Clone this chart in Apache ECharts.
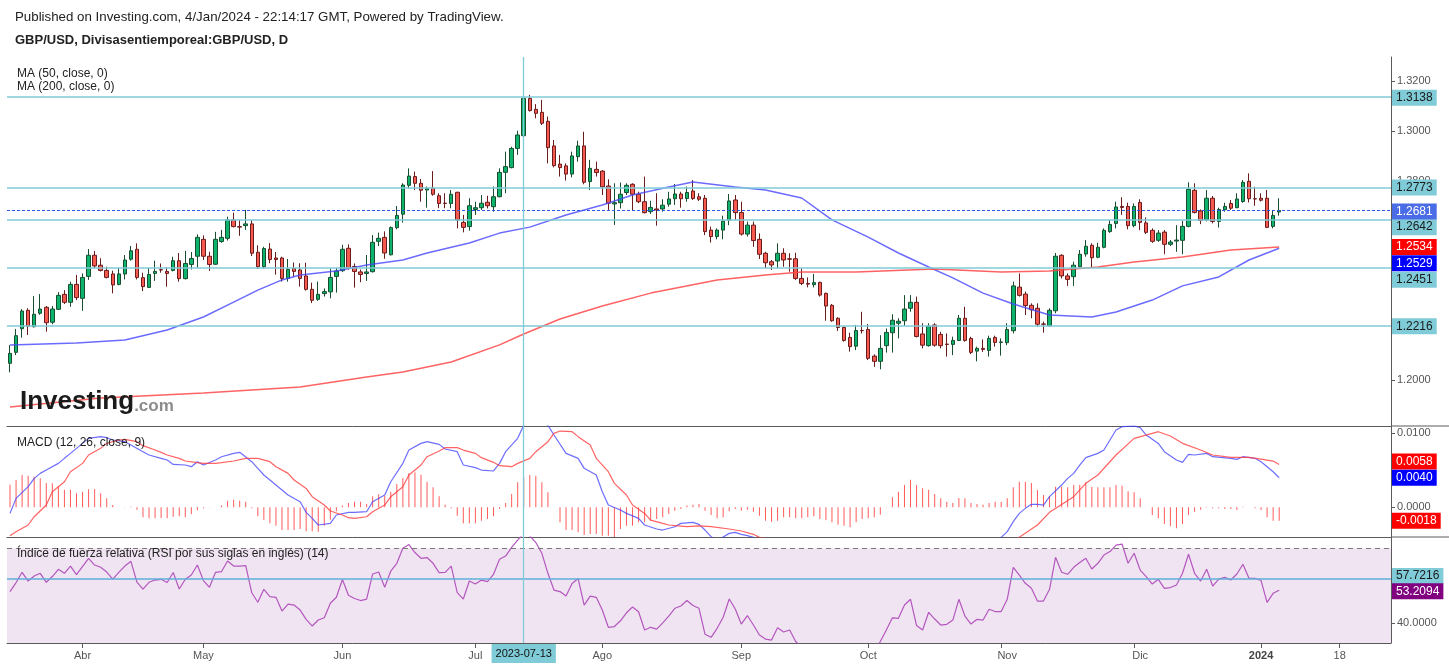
<!DOCTYPE html>
<html>
<head>
<meta charset="utf-8">
<script src="https://cdn.jsdelivr.net/npm/echarts@6/dist/echarts.min.js"></script>
<style>
html,body{margin:0;padding:0;background:#fff;}
#chart{width:1449px;height:667px;}
</style>
</head>
<body>
<div id="chart"></div>
<script>
// ---------- categories ----------
const firstDay = '2023-03-16';
const categoryCount = 229;
const tickLabels = {
  '2023-04-03':'Abr','2023-05-01':'May','2023-06-01':'Jun','2023-07-03':'Jul',
  '2023-07-13':'2023-07-13','2023-08-01':'Ago','2023-09-01':'Sep','2023-10-02':'Oct',
  '2023-11-01':'Nov','2023-12-01':'Dic','2024-01-01':'2024','2024-01-18':'18'
};
const crosshairDay = '2023-07-13';

// ---------- daily OHLC (from 2023-03-16) ----------
const opens = [
1.2067,1.2111,1.2206,1.2280,1.2214,1.2268,1.2292,1.2232,1.2284,1.2344,
1.2312,1.2384,1.2328,1.2416,1.2501,1.2461,1.2440,1.2426,1.2384,1.2426,
1.2485,1.2525,1.2411,1.2372,1.2428,1.2443,1.2436,1.2440,1.2479,1.2407,
1.2464,1.2497,1.2565,1.2497,1.2465,1.2556,1.2569,1.2643,1.2616,1.2620,
1.2627,1.2513,1.2455,1.2526,1.2490,1.2490,1.2408,1.2448,1.2442,1.2418,
1.2364,1.2324,1.2347,1.2354,1.2416,1.2439,1.2529,1.2456,1.2434,1.2428,
1.2435,1.2557,1.2573,1.2503,1.2612,1.2666,1.2782,1.2817,1.2790,1.2763,
1.2770,1.2740,1.2710,1.2709,1.2754,1.2633,1.2616,1.2685,1.2692,1.2714,
1.2696,1.2736,1.2834,1.2853,1.2930,1.2981,1.3131,1.3087,1.3075,1.3039,
1.2940,1.2867,1.2860,1.2827,1.2897,1.2940,1.2797,1.2846,1.2839,1.2779,
1.2707,1.2712,1.2753,1.2786,1.2746,1.2716,1.2676,1.2687,1.2687,1.2706,
1.2728,1.2747,1.2729,1.2759,1.2736,1.2730,1.2602,1.2576,1.2602,1.2642,
1.2723,1.2673,1.2586,1.2622,1.2565,1.2509,1.2475,1.2478,1.2509,1.2487,
1.2487,1.2408,1.2388,1.2383,1.2392,1.2348,1.2300,1.2248,1.2211,1.2171,
1.2136,1.2199,1.2203,1.2096,1.2075,1.2138,1.2190,1.2228,1.2238,1.2288,
1.2312,1.2185,1.2138,1.2221,1.2183,1.2144,1.2143,1.2159,1.2248,1.2167,
1.2116,1.2127,1.2119,1.2171,1.2151,1.2150,1.2198,1.2373,1.2345,1.2300,
1.2288,1.2225,1.2218,1.2278,1.2501,1.2418,1.2415,1.2455,1.2506,1.2541,
1.2493,1.2533,1.2596,1.2629,1.2697,1.2697,1.2620,1.2713,1.2631,1.2601,
1.2561,1.2594,1.2545,1.2558,1.2561,1.2617,1.2762,1.2679,1.2643,1.2730,
1.2637,1.2684,1.2709,1.2692,1.2717,1.2798,1.2728,1.2730,1.2730,1.2617,
1.2675];
const highs = [
1.2140,1.2205,1.2285,1.2288,1.2337,1.2345,1.2297,1.2297,1.2353,1.2361,
1.2395,1.2422,1.2428,1.2526,1.2518,1.2489,1.2455,1.2439,1.2450,1.2502,
1.2538,1.2549,1.2431,1.2451,1.2479,1.2468,1.2452,1.2495,1.2510,1.2519,
1.2514,1.2585,1.2581,1.2515,1.2595,1.2603,1.2656,1.2672,1.2643,1.2683,
1.2643,1.2541,1.2535,1.2550,1.2514,1.2495,1.2486,1.2472,1.2469,1.2471,
1.2391,1.2395,1.2368,1.2448,1.2451,1.2543,1.2545,1.2468,1.2444,1.2502,
1.2582,1.2592,1.2597,1.2617,1.2699,1.2790,1.2850,1.2837,1.2807,1.2777,
1.2839,1.2750,1.2750,1.2763,1.2756,1.2663,1.2730,1.2716,1.2743,1.2740,
1.2777,1.2850,1.2917,1.2937,1.3001,1.3141,1.3145,1.3108,1.3125,1.3058,
1.2964,1.2904,1.2870,1.2917,1.2961,1.2997,1.2884,1.2877,1.2843,1.2806,
1.2790,1.2793,1.2790,1.2790,1.2756,1.2817,1.2720,1.2750,1.2726,1.2756,
1.2787,1.2756,1.2777,1.2803,1.2750,1.2743,1.2616,1.2609,1.2660,1.2747,
1.2743,1.2716,1.2636,1.2636,1.2589,1.2515,1.2482,1.2549,1.2529,1.2509,
1.2511,1.2448,1.2412,1.2426,1.2395,1.2351,1.2305,1.2252,1.2214,1.2190,
1.2221,1.2274,1.2225,1.2103,1.2180,1.2207,1.2264,1.2248,1.2341,1.2341,
1.2335,1.2228,1.2228,1.2228,1.2194,1.2187,1.2174,1.2261,1.2294,1.2174,
1.2134,1.2163,1.2178,1.2178,1.2167,1.2228,1.2395,1.2428,1.2355,1.2308,
1.2308,1.2235,1.2288,1.2510,1.2505,1.2428,1.2475,1.2522,1.2562,1.2549,
1.2551,1.2609,1.2643,1.2716,1.2734,1.2712,1.2709,1.2726,1.2653,1.2609,
1.2602,1.2602,1.2562,1.2622,1.2639,1.2794,1.2790,1.2685,1.2763,1.2739,
1.2692,1.2712,1.2723,1.2750,1.2803,1.2830,1.2776,1.2750,1.2763,1.2680,
1.2730];
const lows = [
1.2031,1.2100,1.2170,1.2181,1.2211,1.2262,1.2194,1.2224,1.2281,1.2305,
1.2294,1.2321,1.2278,1.2402,1.2448,1.2436,1.2408,1.2348,1.2380,1.2404,
1.2479,1.2404,1.2357,1.2371,1.2398,1.2431,1.2375,1.2436,1.2395,1.2404,
1.2444,1.2451,1.2482,1.2438,1.2462,1.2551,1.2560,1.2613,1.2579,1.2603,
1.2498,1.2446,1.2448,1.2469,1.2423,1.2395,1.2395,1.2415,1.2375,1.2359,
1.2309,1.2318,1.2335,1.2328,1.2351,1.2434,1.2443,1.2371,1.2393,1.2398,
1.2432,1.2538,1.2487,1.2500,1.2605,1.2632,1.2768,1.2763,1.2716,1.2692,
1.2740,1.2690,1.2690,1.2690,1.2609,1.2593,1.2600,1.2663,1.2683,1.2689,
1.2676,1.2734,1.2750,1.2850,1.2904,1.2977,1.3078,1.3051,1.3024,1.2870,
1.2854,1.2817,1.2801,1.2814,1.2877,1.2786,1.2763,1.2817,1.2743,1.2683,
1.2623,1.2689,1.2743,1.2683,1.2710,1.2669,1.2667,1.2620,1.2676,1.2696,
1.2703,1.2692,1.2716,1.2723,1.2719,1.2582,1.2552,1.2565,1.2565,1.2622,
1.2643,1.2580,1.2576,1.2535,1.2486,1.2448,1.2442,1.2448,1.2455,1.2435,
1.2402,1.2381,1.2372,1.2372,1.2335,1.2238,1.2234,1.2197,1.2154,1.2114,
1.2120,1.2187,1.2080,1.2053,1.2043,1.2110,1.2110,1.2167,1.2217,1.2274,
1.2171,1.2127,1.2134,1.2134,1.2127,1.2094,1.2100,1.2156,1.2154,1.2104,
1.2075,1.2113,1.2094,1.2134,1.2098,1.2140,1.2187,1.2335,1.2261,1.2248,
1.2214,1.2190,1.2214,1.2268,1.2408,1.2378,1.2378,1.2451,1.2495,1.2451,
1.2489,1.2529,1.2591,1.2609,1.2663,1.2605,1.2613,1.2602,1.2586,1.2551,
1.2555,1.2505,1.2538,1.2515,1.2505,1.2613,1.2669,1.2626,1.2637,1.2629,
1.2612,1.2676,1.2683,1.2690,1.2712,1.2713,1.2700,1.2717,1.2610,1.2609,
1.2660];
const closes = [
1.2107,1.2178,1.2277,1.2216,1.2264,1.2285,1.2230,1.2285,1.2340,1.2312,
1.2384,1.2331,1.2412,1.2501,1.2458,1.2440,1.2412,1.2382,1.2426,1.2482,
1.2519,1.2412,1.2375,1.2424,1.2436,1.2442,1.2428,1.2479,1.2407,1.2468,
1.2488,1.2573,1.2497,1.2464,1.2565,1.2573,1.2643,1.2616,1.2614,1.2627,
1.2509,1.2455,1.2528,1.2484,1.2484,1.2408,1.2444,1.2436,1.2408,1.2364,
1.2320,1.2344,1.2355,1.2412,1.2438,1.2525,1.2448,1.2436,1.2424,1.2434,
1.2553,1.2569,1.2510,1.2612,1.2661,1.2783,1.2819,1.2790,1.2762,1.2770,
1.2746,1.2709,1.2709,1.2746,1.2643,1.2613,1.2700,1.2692,1.2710,1.2700,
1.2736,1.2834,1.2857,1.2930,1.2984,1.3131,1.3082,1.3071,1.3031,1.2933,
1.2861,1.2853,1.2827,1.2900,1.2940,1.2794,1.2850,1.2833,1.2776,1.2710,
1.2712,1.2746,1.2782,1.2746,1.2716,1.2672,1.2693,1.2683,1.2702,1.2727,
1.2747,1.2728,1.2753,1.2729,1.2726,1.2596,1.2576,1.2602,1.2638,1.2719,
1.2672,1.2586,1.2622,1.2560,1.2505,1.2471,1.2462,1.2509,1.2482,1.2485,
1.2408,1.2388,1.2385,1.2391,1.2341,1.2297,1.2238,1.2211,1.2159,1.2134,
1.2199,1.2198,1.2087,1.2075,1.2127,1.2191,1.2240,1.2236,1.2285,1.2312,
1.2175,1.2140,1.2216,1.2140,1.2138,1.2143,1.2159,1.2248,1.2159,1.2111,
1.2127,1.2123,1.2167,1.2151,1.2153,1.2203,1.2378,1.2340,1.2299,1.2282,
1.2224,1.2224,1.2280,1.2497,1.2418,1.2404,1.2461,1.2505,1.2537,1.2491,
1.2533,1.2601,1.2625,1.2695,1.2693,1.2620,1.2697,1.2633,1.2593,1.2557,
1.2590,1.2545,1.2554,1.2562,1.2617,1.2766,1.2673,1.2641,1.2730,1.2637,
1.2685,1.2697,1.2690,1.2727,1.2794,1.2728,1.2727,1.2722,1.2613,1.2661,
1.2681];

// ---------- moving averages, read as [dayIndex, value] ----------
const ma50Points = [[0,1.2141],[11,1.2149],[19,1.2161],[26,1.2201],[32,1.2253],[37,1.2313],[41,1.2361],[45,1.2402],[48,1.2422],[54,1.2438],[59,1.2462],[65,1.2482],[69,1.2510],[76,1.2550],[81,1.2590],[86,1.2614],[92,1.2663],[98,1.2703],[103,1.2743],[109,1.2775],[113,1.2795],[120,1.2775],[125,1.2763],[131,1.2731],[136,1.2643],[142,1.2574],[147,1.2510],[152,1.2454],[156,1.2410],[161,1.2349],[166,1.2305],[172,1.2261],[179,1.2253],[183,1.2273],[189,1.2321],[194,1.2378],[200,1.2414],[205,1.2482],[210,1.2529]];
const ma200Points = [[0,1.1892],[15,1.1928],[32,1.1948],[48,1.1972],[59,1.2012],[65,1.2032],[73,1.2072],[81,1.2141],[85,1.2185],[91,1.2245],[98,1.2297],[106,1.2349],[117,1.2402],[125,1.2422],[131,1.2434],[140,1.2434],[153,1.2446],[164,1.2434],[172,1.2438],[180,1.2454],[186,1.2474],[194,1.2494],[202,1.2522],[210,1.2534]];

// ---------- price levels ----------
const supportLevels = [1.3138, 1.2773, 1.2642, 1.2451, 1.2216];
const lastPrice = 1.2681;
const ma200Last = 1.2534;
const ma50Last = 1.2529;
const priceTicks = [1.20, 1.22, 1.24, 1.26, 1.28, 1.30, 1.32];

// ---------- MACD ----------
const macdHist = [
0.00306,0.00369,0.00437,0.00428,0.00414,0.00392,0.00329,0.00324,0.00284,0.00239,
0.00239,0.00189,0.00212,0.00243,0.00248,0.00189,0.00122,0.00032,0.00000,0.00005,
0.00009,-0.00032,-0.00135,-0.00149,-0.00149,-0.00144,-0.00149,-0.00126,-0.00122,-0.00135,
-0.00090,-0.00040,-0.00014,0.00005,0.00002,0.00023,0.00090,0.00104,0.00090,0.00077,
-0.00014,-0.00122,-0.00171,-0.00216,-0.00248,-0.00306,-0.00306,-0.00306,-0.00293,-0.00324,
-0.00324,-0.00329,-0.00248,-0.00167,-0.00054,0.00023,0.00059,0.00077,0.00077,0.00045,
0.00149,0.00176,0.00158,0.00212,0.00315,0.00396,0.00464,0.00473,0.00441,0.00347,
0.00270,0.00149,0.00036,-0.00014,-0.00113,-0.00216,-0.00216,-0.00216,-0.00180,-0.00158,
-0.00122,-0.00023,0.00059,0.00180,0.00338,0.00405,0.00437,0.00428,0.00338,0.00203,
0.00000,-0.00203,-0.00306,-0.00306,-0.00338,-0.00374,-0.00360,-0.00360,-0.00383,-0.00383,
-0.00405,-0.00293,-0.00248,-0.00248,-0.00203,-0.00203,-0.00180,-0.00158,-0.00135,-0.00090,
-0.00045,-0.00023,0.00023,0.00036,0.00045,
-0.00045,-0.00104,-0.00149,-0.00135,-0.00054,-0.00023,-0.00045,-0.00032,-0.00059,-0.00113,
-0.00180,-0.00194,-0.00180,-0.00135,-0.00135,-0.00149,-0.00149,-0.00135,-0.00122,-0.00158,
-0.00171,-0.00203,-0.00234,-0.00248,-0.00270,-0.00203,-0.00158,-0.00149,-0.00135,-0.00099,
0.00005,0.00135,0.00212,0.00302,0.00374,0.00302,0.00257,0.00239,0.00180,0.00122,
0.00077,0.00059,0.00126,0.00122,0.00059,0.00045,0.00036,0.00059,0.00077,0.00077,
0.00122,0.00270,0.00347,0.00347,0.00329,0.00234,0.00167,0.00149,0.00279,0.00279,
0.00270,0.00302,0.00306,0.00338,0.00279,0.00270,0.00270,0.00270,0.00302,0.00293,
0.00216,0.00203,0.00122,0.00000,-0.00104,-0.00149,-0.00225,-0.00257,-0.00284,-0.00225,
-0.00104,-0.00059,-0.00032,0.00009,-0.00014,-0.00014,-0.00023,-0.00023,-0.00036,0.00009,
0.00002,-0.00014,-0.00036,-0.00135,-0.00180,-0.00180];
const macdPoints = [[0,-0.00082],[1,0.00121],[3,0.00279],[4,0.00391],[5,0.00459],[6,0.00504],[8,0.00594],[9,0.00662],[10,0.00729],[11,0.00797],[12,0.00864],[13,0.00932],[15,0.00955],[16,0.00941],[17,0.0091],[19,0.00887],[20,0.00842],[22,0.00752],[23,0.00707],[25,0.00662],[26,0.00639],[27,0.0058],[29,0.00572],[30,0.00549],[31,0.00617],[32,0.00572],[34,0.00639],[35,0.00684],[37,0.00729],[38,0.00743],[40,0.00617],[41,0.00527],[42,0.00437],[43,0.00369],[45,0.00234],[46,0.00166],[48,0.00076],[49,-0.00068],[50,-0.00149],[51,-0.00239],[53,-0.00217],[54,-0.00104],[56,-0.00068],[57,-0.00068],[59,-0.00059],[60,0.00076],[62,0.00166],[63,0.00346],[65,0.00594],[66,0.00774],[68,0.00864],[69,0.00887],[71,0.00851],[72,0.00788],[74,0.00752],[75,0.00572],[77,0.00536],[78,0.00504],[80,0.00491],[81,0.00594],[82,0.00752],[84,0.00932],[85,0.0111],[87,0.0118],[89,0.0111],[90,0.00977],[92,0.00729],[94,0.00662],[95,0.00527],[97,0.00437],[98,0.00211],[99,0.00031],[101,-0.00036],[102,-0.00082],[104,-0.00149],[105,-0.00239],[107,-0.00293],[108,-0.00307],[110,-0.00262],[111,-0.00217],[113,-0.00203],[114,-0.0023],[115,-0.00307],[116,-0.00397],[117,-0.0045],[119,-0.00352],[120,-0.00338],[121,-0.00365],[122,-0.00383],[123,-0.00406],[126,-0.005],[130,-0.0058],[135,-0.0072],[140,-0.0085],[144,-0.0078],[150,-0.0062],[156,-0.0055],[160,-0.005],[163,-0.0045],[164,-0.00406],[165,-0.00329],[166,-0.00194],[167,-0.00082],[168,-0.00014],[169,0.0004],[170,0.0004],[171,0.00031],[172,0.00144],[174,0.00301],[175,0.00391],[176,0.00459],[177,0.00571],[178,0.00671],[180,0.00729],[181,0.00774],[182,0.0091],[183,0.01045],[184,0.0109],[186,0.011],[187,0.01076],[188,0.00977],[190,0.00864],[191,0.00752],[193,0.00639],[194,0.00608],[195,0.00716],[196,0.00707],[198,0.00729],[199,0.00684],[202,0.00662],[203,0.00648],[204,0.00684],[206,0.00662],[207,0.00617],[209,0.00481],[210,0.0040]];
const signalPoints = [[0,-0.00383],[1,-0.00329],[3,-0.00239],[4,-0.00127],[6,0.00031],[7,0.00211],[9,0.00346],[10,0.00481],[12,0.00594],[13,0.00707],[15,0.00797],[16,0.00864],[18,0.0091],[19,0.00919],[21,0.00887],[22,0.00833],[24,0.00774],[25,0.00743],[26,0.00707],[28,0.00662],[29,0.00626],[31,0.00603],[32,0.00594],[34,0.00594],[35,0.00603],[37,0.00626],[39,0.00662],[41,0.00662],[43,0.00617],[44,0.00549],[46,0.00459],[47,0.00369],[49,0.00256],[50,0.00144],[52,0.00031],[53,-0.0005],[55,-0.00104],[56,-0.0014],[57,-0.00149],[59,-0.00127],[60,-0.00059],[62,0.00031],[63,0.00144],[65,0.00279],[66,0.00437],[68,0.00572],[69,0.00684],[71,0.00761],[72,0.00806],[74,0.00806],[75,0.00774],[77,0.00729],[78,0.00671],[80,0.00608],[81,0.00563],[83,0.00549],[84,0.00594],[86,0.00662],[87,0.00752],[89,0.00887],[90,0.01],[91,0.01031],[93,0.01022],[94,0.00955],[96,0.00842],[97,0.00662],[99,0.00482],[100,0.00324],[102,0.00166],[103,0.00031],[105,-0.00082],[106,-0.00172],[108,-0.00217],[109,-0.00239],[111,-0.00253],[112,-0.00262],[114,-0.0025],[116,-0.00261],[119,-0.00293],[121,-0.0032],[123,-0.00365],[124,-0.00406],[128,-0.0046],[135,-0.0058],[142,-0.0072],[150,-0.0075],[158,-0.0062],[163,-0.0052],[167,-0.00406],[170,-0.00239],[172,-0.00068],[176,0.00144],[178,0.00324],[180,0.00437],[183,0.00707],[186,0.00932],[189,0.00999],[190,0.01022],[192,0.00964],[194,0.00865],[197,0.00774],[199,0.00707],[202,0.00675],[205,0.00675],[207,0.00652],[209,0.00625],[210,0.0058]];
const macdTicks = [0, 0.01];
const signalLast = 0.0058, macdLast = 0.0040, histLast = -0.0018;

// ---------- RSI ----------
const rsiPoints = [[0,52.7],[1,56.3],[2,60.4],[3,56.9],[4,58.9],[5,60.0],[6,56.4],[7,58.7],[8,61.6],[9,60.0],[10,62.9],[11,59.5],[13,66.0],[14,63.3],[15,62.4],[16,60.5],[17,57.7],[18,60.4],[19,62.9],[20,64.8],[21,56.5],[22,53.7],[23,56.4],[24,57.3],[25,57.6],[26,56.3],[27,60.3],[28,53.7],[29,57.6],[30,59.3],[31,63.3],[32,57.1],[33,54.4],[34,60.4],[35,60.7],[36,64.9],[37,62.9],[38,62.9],[39,63.1],[40,52.2],[41,48.4],[42,53.6],[43,50.7],[44,50.4],[45,44.9],[46,47.7],[47,47.3],[48,45.3],[49,41.6],[50,38.9],[51,41.3],[52,42.2],[53,48.0],[54,50.4],[55,57.5],[56,51.2],[57,49.9],[58,49.1],[59,49.7],[60,59.7],[61,60.5],[62,54.4],[63,60.9],[64,64.0],[65,70.0],[66,71.5],[67,68.3],[68,66.0],[69,66.3],[70,64.0],[71,60.3],[72,60.4],[73,62.9],[74,52.3],[75,49.7],[76,56.9],[77,55.7],[78,57.3],[79,56.7],[80,59.6],[81,65.6],[82,66.9],[83,70.4],[84,73.3],[85,76.0],[86,75.0],[87,72.3],[88,68.0],[89,60.0],[90,53.3],[91,52.7],[92,50.9],[93,55.9],[94,57.9],[95,47.3],[96,50.9],[97,50.4],[98,45.3],[99,38.4],[100,38.7],[101,41.0],[102,44.2],[103,46.5],[104,44.6],[105,37.3],[106,38.4],[107,37.7],[108,40.2],[109,42.9],[110,46.0],[111,46.9],[112,49.1],[113,47.1],[114,46.0],[115,35.6],[116,34.4],[117,38.0],[118,42.4],[119,49.7],[120,45.7],[121,39.7],[122,43.1],[123,39.3],[124,35.3],[125,33.7],[126,33.3],[127,38.2],[128,36.5],[129,37.3],[130,32.7],[131,30.5],[133,28.0],[136,24.0],[139,21.0],[142,25.0],[143,28.5],[144,32.7],[145,37.3],[146,42.2],[147,42.0],[148,47.3],[149,49.6],[150,39.1],[151,37.3],[152,44.4],[153,41.7],[154,39.3],[155,39.6],[156,41.3],[157,49.6],[158,42.9],[159,39.7],[160,41.6],[161,41.3],[162,45.6],[163,44.7],[164,44.7],[165,49.6],[166,62.4],[167,59.3],[168,56.0],[169,54.0],[170,48.9],[171,48.9],[172,53.6],[173,66.4],[174,60.4],[175,59.6],[176,62.4],[177,64.3],[178,66.0],[179,61.7],[180,64.0],[181,67.3],[182,68.7],[183,71.3],[184,71.7],[185,64.0],[186,68.0],[187,61.3],[188,58.7],[189,55.7],[190,57.6],[191,54.0],[192,54.3],[193,55.3],[194,60.0],[195,67.6],[196,60.0],[197,56.9],[198,61.6],[199,54.9],[200,57.7],[201,58.4],[202,57.3],[203,59.7],[204,63.6],[205,58.0],[206,58.0],[207,57.1],[208,48.4],[209,52.0],[210,53.2]];
const rsiUpper = 70, rsiLower = 30;
const rsiLevel = 57.7216;
const rsiLast = 53.2094;
const rsiTicks = [40, 60];

// ---------- build ----------
function weekdays(start, n) {
  const out = [];
  const p = start.split('-').map(Number);
  const d = new Date(Date.UTC(p[0], p[1] - 1, p[2]));
  while (out.length < n) {
    const w = d.getUTCDay();
    if (w !== 0 && w !== 6) out.push(d.toISOString().slice(0, 10));
    d.setUTCDate(d.getUTCDate() + 1);
  }
  return out;
}
const dates = weekdays(firstDay, categoryCount);
const candles = opens.map((o, i) => [o, closes[i], lows[i], highs[i]]);
const toPairs = pts => pts.map(p => [dates[p[0]], p[1]]);
const isTickDay = (i, v) => Object.prototype.hasOwnProperty.call(tickLabels, v);

const FONT = '"Liberation Sans", Arial, sans-serif';
const TEAL = '#7FCBD7';
const AXIS = '#5a5a5a';
const NOLINE = {color: 'rgba(0,0,0,0)', width: 1};

// axis ranges (pane extents)
const PRICE_MIN = 1.18153, PRICE_MAX = 1.32972;
const MACD_MIN = -0.00401, MACD_MAX = 0.01099;
const RSI_MIN = 32.12, RSI_MAX = 74.52;

function badge(text, bg, fg, dy) {
  return {
    show: true, position: 'end', distance: 1, formatter: text,
    backgroundColor: bg, color: fg, fontSize: 12, fontFamily: FONT,
    padding: [2, 4, 1, 4], lineHeight: 13, offset: [0, dy || 0]
  };
}
const levelShift = {1.3138: 1, 1.2773: 0, 1.2642: 7, 1.2451: 12, 1.2216: 0};
const crossLine = {xAxis: crosshairDay, lineStyle: {color: TEAL, width: 1.3, type: 'solid'}, label: {show: false}};

const xAxes = [0, 1, 2].map(g => ({
  type: 'category', gridIndex: g, data: dates, boundaryGap: true,
  axisLine: {show: true, onZero: false, lineStyle: {color: AXIS, width: 1}},
  axisTick: g === 2 ? {show: true, alignWithLabel: true, length: 5, interval: isTickDay,
    lineStyle: {color: AXIS}} : {show: false},
  axisLabel: g === 2 ? {
    show: true, margin: 1, color: '#555', fontSize: 11, fontFamily: FONT,
    interval: isTickDay,
    formatter: v => {
      const t = tickLabels[v] || '';
      if (v === crosshairDay) return '{hl|' + t + '}';
      if (t === '2024') return '{b|' + t + '}';
      if (t === 'Nov' || t === 'Dic') return '{s|' + t + '}';
      return '{n|' + t + '}';
    },
    rich: {
      hl: {backgroundColor: TEAL, color: '#111', padding: [4, 4, 4, 4], fontSize: 11, fontFamily: FONT},
      b: {fontWeight: 'bold', color: '#444', fontSize: 11, fontFamily: FONT, padding: [6, 0, 0, 0]},
      n: {color: '#555', fontSize: 11, fontFamily: FONT, padding: [6, 0, 0, 0]},
      s: {color: '#555', fontSize: 11, fontFamily: FONT, padding: [6, 0, 0, 12]}
    }
  } : {show: false},
  splitLine: {show: false}
}));

function yAxisFor(g, min, max, ticks, dec) {
  return {
    type: 'value', gridIndex: g, position: 'right', min: min, max: max,
    splitLine: {show: false},
    axisLine: {show: true, lineStyle: {color: AXIS, width: 1}},
    axisTick: {show: true, length: 4, customValues: ticks, lineStyle: {color: AXIS}},
    axisLabel: {show: true, customValues: ticks, margin: 6, color: '#555', fontSize: 11, fontFamily: FONT,
      formatter: v => Number(v).toFixed(dec)}
  };
}

const option = {
  animation: false,
  backgroundColor: '#ffffff',
  textStyle: {fontFamily: FONT},
  title: [
    {text: 'Published on Investing.com, 4/Jan/2024 - 22:14:17 GMT, Powered by TradingView.', left: 15, top: 11, padding: 0,
      textStyle: {fontSize: 13.3, fontWeight: 'normal', color: '#222', fontFamily: FONT}},
    {text: 'GBP/USD, Divisasentiemporeal:GBP/USD, D', left: 15, top: 34, padding: 0,
      textStyle: {fontSize: 13, fontWeight: 'bold', color: '#222', fontFamily: FONT}},
    {text: 'MA (50, close, 0)', left: 17, top: 68, padding: 0,
      textStyle: {fontSize: 12, fontWeight: 'normal', color: '#222', fontFamily: FONT}},
    {text: 'MA (200, close, 0)', left: 17, top: 81, padding: 0,
      textStyle: {fontSize: 12, fontWeight: 'normal', color: '#222', fontFamily: FONT}},
    {text: 'MACD (12, 26, close, 9)', left: 17, top: 437, padding: 0,
      textStyle: {fontSize: 12, fontWeight: 'normal', color: '#222', fontFamily: FONT}},
    {text: 'Índice de fuerza relativa (RSI por sus siglas en inglés) (14)', left: 17, top: 548, padding: 0,
      textStyle: {fontSize: 12, fontWeight: 'normal', color: '#222', fontFamily: FONT}},
    {text: '{a|Investing}{b|.com}', left: 20, top: 389, padding: 0,
      textStyle: {rich: {
        a: {fontSize: 26, fontWeight: 'bold', color: '#1b1b1b', fontFamily: FONT, verticalAlign: 'bottom'},
        b: {fontSize: 17, color: '#8c8c8c', fontFamily: FONT, verticalAlign: 'bottom'}
      }}}
  ],
  grid: [
    {left: 7, width: 1384, top: 57, height: 369, outerBoundsMode: 'none'},
    {left: 7, width: 1384, top: 426, height: 111, outerBoundsMode: 'none'},
    {left: 7, width: 1384, top: 537, height: 106, outerBoundsMode: 'none'}
  ],
  xAxis: xAxes,
  yAxis: [
    yAxisFor(0, PRICE_MIN, PRICE_MAX, priceTicks, 4),
    yAxisFor(1, MACD_MIN, MACD_MAX, macdTicks, 4),
    yAxisFor(2, RSI_MIN, RSI_MAX, rsiTicks, 4)
  ],
  graphic: [
    {type: 'line', shape: {x1: 1391, y1: 426, x2: 1449, y2: 426}, style: {stroke: AXIS, lineWidth: 1}, silent: true},
    {type: 'line', shape: {x1: 1391, y1: 537, x2: 1449, y2: 537}, style: {stroke: AXIS, lineWidth: 1}, silent: true}
  ],
  series: [
    {
      name: 'GBP/USD', type: 'candlestick', xAxisIndex: 0, yAxisIndex: 0,
      data: candles, barWidth: 4, clip: false, silent: true,
      itemStyle: {color: '#0DB36C', color0: '#F65A4F', borderColor: '#174F2E', borderColor0: '#6A1B1B', borderWidth: 1},
      markLine: {
        symbol: ['none', 'none'], silent: true, animation: false, precision: 6,
        data: [
          ...supportLevels.map(v => ({yAxis: v, lineStyle: {color: TEAL, width: 1.5, type: 'solid'},
            label: badge(v.toFixed(4), TEAL, '#1a1a1a', levelShift[v])})),
          {yAxis: lastPrice, lineStyle: {color: '#2B59F0', width: 1.2, type: [3, 2]},
            label: badge(lastPrice.toFixed(4), '#4A6CE6', '#ffffff', 1)},
          {yAxis: ma200Last, lineStyle: NOLINE, label: badge(ma200Last.toFixed(4), '#FF0000', '#ffffff', 0)},
          {yAxis: ma50Last, lineStyle: NOLINE, label: badge(ma50Last.toFixed(4), '#0000FF', '#ffffff', 15)},
          crossLine
        ]
      }
    },
    {
      name: 'MA50', type: 'line', xAxisIndex: 0, yAxisIndex: 0, data: toPairs(ma50Points),
      showSymbol: false, silent: true, lineStyle: {color: 'rgba(70,70,255,0.8)', width: 1.5}
    },
    {
      name: 'MA200', type: 'line', xAxisIndex: 0, yAxisIndex: 0, data: toPairs(ma200Points),
      showSymbol: false, silent: true, lineStyle: {color: 'rgba(255,70,70,0.85)', width: 1.5}
    },
    {
      name: 'Histogram', type: 'bar', xAxisIndex: 1, yAxisIndex: 1, data: macdHist,
      barWidth: 1, silent: true, itemStyle: {color: '#FF5A5A'},
      markLine: {
        symbol: ['none', 'none'], silent: true, animation: false, precision: 6,
        data: [
          {yAxis: signalLast, lineStyle: NOLINE, label: badge(signalLast.toFixed(4), '#FF0000', '#ffffff', -3)},
          {yAxis: macdLast, lineStyle: NOLINE, label: badge(macdLast.toFixed(4), '#0000FF', '#ffffff', 0)},
          {yAxis: histLast, lineStyle: NOLINE, label: badge(histLast.toFixed(4), '#FF0000', '#ffffff', 0)},
          crossLine
        ]
      }
    },
    {
      name: 'MACD', type: 'line', xAxisIndex: 1, yAxisIndex: 1, data: toPairs(macdPoints),
      showSymbol: false, silent: true, lineStyle: {color: 'rgba(60,60,255,0.75)', width: 1.2}
    },
    {
      name: 'Signal', type: 'line', xAxisIndex: 1, yAxisIndex: 1, data: toPairs(signalPoints),
      showSymbol: false, silent: true, lineStyle: {color: 'rgba(255,60,60,0.8)', width: 1.2}
    },
    {
      name: 'RSI bands', type: 'line', xAxisIndex: 2, yAxisIndex: 2, data: [], silent: true,
      markArea: {
        silent: true, precision: 6,
        itemStyle: {color: '#F1E4F2'},
        data: [[{yAxis: rsiUpper}, {yAxis: Math.max(rsiLower, RSI_MIN)}]]
      },
      markLine: {
        symbol: ['none', 'none'], silent: true, animation: false, precision: 6,
        data: [
          {yAxis: rsiUpper, lineStyle: {color: '#7a7a7a', width: 1, type: [5, 4]}, label: {show: false}},
          {yAxis: rsiLevel, lineStyle: {color: '#5DB0DA', width: 1.5, type: 'solid'},
            label: badge(rsiLevel.toFixed(4), TEAL, '#1a1a1a', -3)},
          {yAxis: rsiLast, lineStyle: NOLINE, label: badge(rsiLast.toFixed(4), '#800080', '#ffffff', 1)},
          crossLine
        ]
      }
    },
    {
      name: 'RSI', type: 'line', xAxisIndex: 2, yAxisIndex: 2, data: toPairs(rsiPoints),
      showSymbol: false, silent: true, lineStyle: {color: '#B357BE', width: 1.2}
    }
  ]
};

const chart = echarts.init(document.getElementById('chart'), null, {renderer: 'canvas'});
chart.setOption(option);
</script>
</body>
</html>
